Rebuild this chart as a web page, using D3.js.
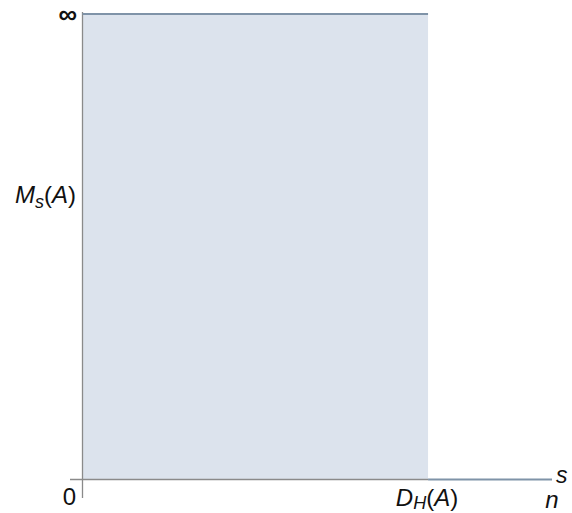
<!DOCTYPE html>
<html>
<head>
<meta charset="utf-8">
<script src="https://cdn.jsdelivr.net/npm/d3@7"></script>
<style>
  html, body { margin: 0; padding: 0; background: #fff; }
  svg { display: block; }
  text { font-family: "Liberation Sans", Arial, sans-serif; fill: #111; }
</style>
</head>
<body>
<svg id="chart" width="572" height="513"></svg>
<script>
// Hausdorff measure M_s(A) as a function of the dimension s:
// infinite below the Hausdorff dimension D_H(A), zero above it.
const stepS    = [0, 0.736, 0.736, 1.0];     // s positions (n = 1)
const stepMass = [1.0, 1.0, 0.0, 0.0];       // 1 stands for ∞
const dimH = 0.736;                          // D_H(A)
const sMax = 1.0;                            // n
const massLevel = 0.606;                     // M_s(A) level on the axis

const xTickValues = [0, dimH, sMax];
const xTickLabels = ["0", "D_H(A)", "n"];
const yTickValues = [massLevel, 1.0];
const yTickLabels = ["M_s(A)", "∞"];

const svg = d3.select("#chart");
const x = d3.scaleLinear().domain([0, sMax]).range([82.5, 552]);
const y = d3.scaleLinear().domain([0, 1]).range([479.5, 14]);

const lineColor = "#7f93a8";
const fillColor = "#dce3ed";
const axisColor = "#8a8a8a";

// Shaded region under the infinite part
const infPart = stepS.map((s, i) => ({ s, m: stepMass[i] })).filter(d => d.m > 0);
svg.append("path")
  .datum(infPart)
  .attr("fill", fillColor)
  .attr("d", d3.area().x(d => x(d.s)).y0(y(0)).y1(d => y(d.m)));

// Axes
svg.append("line")
  .attr("x1", x(0)).attr("x2", x(0))
  .attr("y1", y(1) - 2).attr("y2", 498)
  .attr("stroke", axisColor).attr("stroke-width", 1.3);
svg.append("line")
  .attr("x1", 70).attr("x2", x(dimH))
  .attr("y1", y(0)).attr("y2", y(0))
  .attr("stroke", axisColor).attr("stroke-width", 1.3);

// Step curve: top segment and the zero segment past D_H
const pts = stepS.map((s, i) => ({ s, m: stepMass[i] }));
const lineGen = d3.line().x(d => x(d.s)).y(d => y(d.m));
svg.append("path")
  .datum(pts.slice(0, 2))
  .attr("fill", "none").attr("stroke", lineColor).attr("stroke-width", 2.2)
  .attr("d", lineGen);
svg.append("path")
  .datum(pts.slice(2))
  .attr("fill", "none").attr("stroke", lineColor).attr("stroke-width", 2.2)
  .attr("d", lineGen);

// Subscripted label helper: "M_s(A)" -> M with subscript s
function label(sel, txt, sub) {
  const m = txt.match(/^([^_]*)_([^(]*)(.*)$/);
  if (!m) { sel.text(txt); return; }
  sel.append("tspan").attr("font-style", "italic").text(m[1]);
  sel.append("tspan").attr("font-style", "italic").attr("font-size", "18px").attr("dy", sub).text(m[2]);
  const rest = m[3];
  sel.append("tspan").attr("dy", -sub).text("(");
  sel.append("tspan").attr("font-style", "italic").text(rest.replace(/[()]/g, ""));
  sel.append("tspan").text(")");
}

// X tick labels
xTickValues.forEach((v, i) => {
  const t = svg.append("text").attr("font-size", "24px");
  if (i === 0) {
    t.attr("x", x(v) - 13).attr("y", 505).attr("text-anchor", "middle").text(xTickLabels[i]);
  } else if (i === 1) {
    t.attr("x", x(v) - 1).attr("y", 506).attr("text-anchor", "middle");
    label(t, xTickLabels[i], 3);
  } else {
    t.attr("x", x(v)).attr("y", 508).attr("text-anchor", "middle")
      .attr("font-style", "italic").text(xTickLabels[i]);
  }
});

// Y tick labels
yTickValues.forEach((v, i) => {
  const t = svg.append("text").attr("font-size", "24px").attr("text-anchor", "end");
  if (i === 0) {
    t.attr("x", 76).attr("y", y(v) + 6);
    label(t, yTickLabels[i], 5);
  } else {
    t.attr("x", 77).attr("y", y(v) + 9).attr("font-size", "26px").attr("font-weight", "bold")
      .text(yTickLabels[i]);
  }
});

// Axis name for s
svg.append("text").attr("x", 556).attr("y", 483).attr("font-size", "23px")
  .attr("font-style", "italic").text("s");
</script>
</body>
</html>
